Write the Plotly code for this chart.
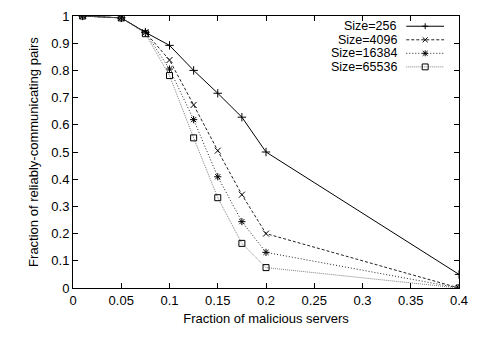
import plotly.graph_objects as go

x_vals = [0.01, 0.05, 0.075, 0.1, 0.125, 0.15, 0.175, 0.2, 0.4]
size_256 = [1.0, 0.993, 0.94, 0.892, 0.80, 0.716, 0.628, 0.50, 0.05]
size_4096 = [1.0, 0.993, 0.94, 0.838, 0.673, 0.505, 0.343, 0.20, 0.0]
size_16384 = [1.0, 0.993, 0.94, 0.805, 0.619, 0.409, 0.244, 0.131, 0.0]
size_65536 = [1.0, 0.993, 0.935, 0.781, 0.552, 0.332, 0.164, 0.075, 0.0]

labels = ["Size=256", "Size=4096", "Size=16384", "Size=65536"]
series = [size_256, size_4096, size_16384, size_65536]
x_ticks = [0, 0.05, 0.1, 0.15, 0.2, 0.25, 0.3, 0.35, 0.4]
x_ticktext = ["0", "0.05", "0.1", "0.15", "0.2", "0.25", "0.3", "0.35", "0.4"]
y_ticks = [0, 0.1, 0.2, 0.3, 0.4, 0.5, 0.6, 0.7, 0.8, 0.9, 1]
y_ticktext = ["0", "0.1", "0.2", "0.3", "0.4", "0.5", "0.6", "0.7", "0.8", "0.9", "1"]

styles = [
    dict(color="black", dash="solid", symbol="cross-thin", key="plus"),
    dict(color="#222222", dash="3px,2px", symbol="x-thin", key="x"),
    dict(color="#222222", dash="1px,2px", symbol="asterisk", key="star"),
    dict(color="#808080", dash="1px,1px", symbol="square-open", key="square"),
]

W, H = 477, 337
L, R, T, B = 73, 16, 9, 49
PW, PH = W - L - R, H - T - B
FONT = "Liberation Sans"
FS = 13

fig = go.Figure()
for lab, ys, st in zip(labels, series, styles):
    fig.add_trace(go.Scatter(
        x=x_vals, y=ys, name=lab, mode="lines+markers", showlegend=False,
        line=dict(color=st["color"], width=1, dash=st["dash"]),
        marker=dict(symbol=st["symbol"], size=6, color="black",
                    line=dict(color="black", width=1)),
    ))

# gnuplot-style key (text right-aligned, sample to the right), drawn in pixel space
def px(xp):
    return (xp - L) / PW

def py(yp):
    return (T + PH - yp) / PH

shapes = []
annotations = []
key_text_right = 400
key_line = (408, 446)
key_mark_x = 427
key_row0, key_dy = 19.5, 13.9

def seg(x0, y0, x1, y1, color="black", dash="solid"):
    shapes.append(dict(type="line", xref="paper", yref="paper",
                       x0=px(x0), y0=py(y0), x1=px(x1), y1=py(y1),
                       line=dict(color=color, width=1, dash=dash)))

for i, (lab, st) in enumerate(zip(labels, styles)):
    yr = key_row0 + i * key_dy
    annotations.append(dict(text=lab, xref="paper", yref="paper", x=px(key_text_right), y=py(yr),
                            xanchor="right", yanchor="middle", showarrow=False, borderpad=0,
                            font=dict(family=FONT, size=12.5, color="black")))
    seg(key_line[0], yr, key_line[1], yr, st["color"], st["dash"])
    cx, h = key_mark_x, 3
    if st["key"] in ("plus", "star"):
        seg(cx - h, yr, cx + h, yr)
        seg(cx, yr - h, cx, yr + h)
    if st["key"] in ("x", "star"):
        seg(cx - h + 0.5, yr - h + 0.5, cx + h - 0.5, yr + h - 0.5)
        seg(cx - h + 0.5, yr + h - 0.5, cx + h - 0.5, yr - h + 0.5)
    if st["key"] == "square":
        shapes.append(dict(type="rect", xref="paper", yref="paper",
                           x0=px(cx - 3), y0=py(yr + 3), x1=px(cx + 3), y1=py(yr - 3),
                           line=dict(color="black", width=1), fillcolor="rgba(0,0,0,0)"))

axis_common = dict(
    showgrid=False, zeroline=False, showline=True, linecolor="black", linewidth=1,
    mirror="ticks", ticks="inside", ticklen=5, tickcolor="black", tickwidth=1,
    tickfont=dict(family=FONT, size=FS, color="black"),
)

fig.update_layout(
    width=W, height=H,
    margin=dict(l=L, r=R, t=T, b=B),
    paper_bgcolor="white", plot_bgcolor="white",
    font=dict(family=FONT, size=FS, color="black"),
    xaxis=dict(range=[0, 0.4], tickvals=x_ticks, ticktext=x_ticktext,
               title=dict(text="Fraction of malicious servers", standoff=7,
                          font=dict(family=FONT, size=FS, color="black")), **axis_common),
    yaxis=dict(range=[0, 1], tickvals=y_ticks, ticktext=y_ticktext,
               title=dict(text="Fraction of reliably-communicating pairs", standoff=9,
                          font=dict(family=FONT, size=FS, color="black")), **axis_common),
    showlegend=False,
    shapes=shapes,
    annotations=annotations,
)

fig.write_html("out.html")
